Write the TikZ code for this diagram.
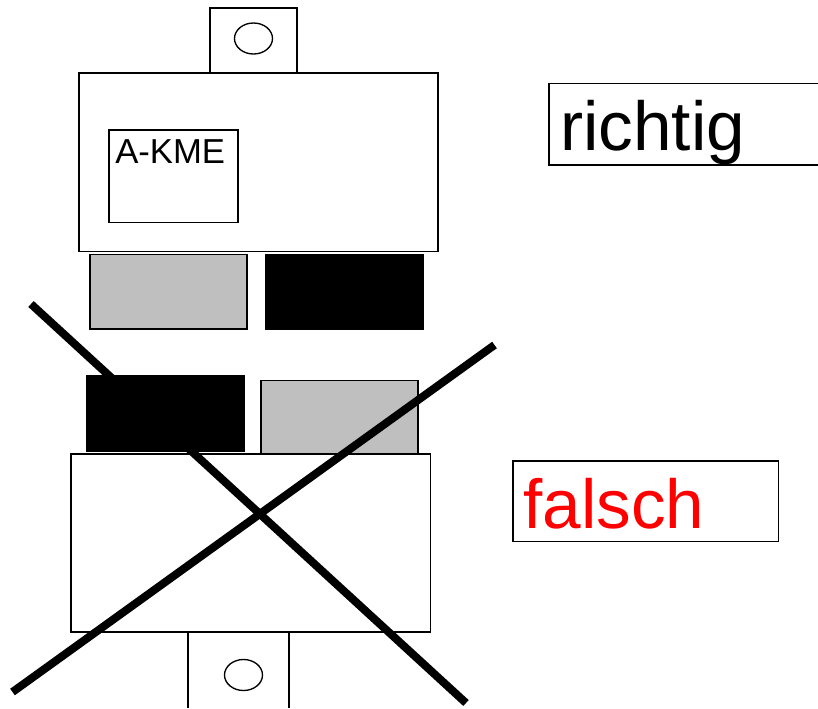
\documentclass[tikz,border=0pt]{standalone}
\usepackage{fontspec}
\setmainfont{Liberation Sans}
\begin{document}
\begin{tikzpicture}[x=0.75pt,y=-0.75pt,
  outline/.style={draw=black,line width=1pt},
  graybox/.style={outline,fill=black!25!white},
  blackbox/.style={draw=black,fill=black,line width=1pt},
  cross/.style={draw=black,line width=6pt},
  bigtext/.style={anchor=base west,inner sep=0pt,font=\fontsize{52}{52}\selectfont},
  smalltext/.style={anchor=base west,inner sep=0pt,font=\fontsize{26}{26}\selectfont}]
\useasboundingbox (0,0) rectangle (818,708);
% upper unit
\draw[outline] (210,73) -- (210,8) -- (297,8) -- (297,73);
\draw[outline] (253.5,38.5) ellipse (19 and 15.5);
\draw[outline] (79,73) rectangle (438,251.5);
\draw[outline] (109,130) rectangle (238,222.5);
\node[smalltext] (akme) at (115,163) {A-KME};
\draw[graybox] (90,254.5) rectangle (247,329);
\draw[blackbox] (265.5,254.5) rectangle (423,329);
% lower unit
\draw[blackbox] (86.5,376) rectangle (244.5,451);
\draw[graybox] (261,380.5) rectangle (418,454);
\draw[outline] (71,454) rectangle (430.5,632);
\draw[outline] (188,632) -- (188,708);
\draw[outline] (289,632) -- (289,708);
\draw[outline] (243.5,675) ellipse (19 and 15.5);
% crossing lines
\coordinate (x1s) at (31,304);
\coordinate (x1e) at (466,703);
\coordinate (x2s) at (494.5,345);
\coordinate (x2e) at (12.5,692);
\draw[cross] (x1s) -- (x1e);
\draw[cross] (x2s) -- (x2e);
% labels
\draw[outline] (818,83.5) -- (549,83.5) -- (549,165) -- (818,165);
\node[bigtext] (richtig) at (560,150) {richtig};
\draw[outline] (513,461) rectangle (778.5,541.5);
\node[bigtext,text=red] (falsch) at (523,528) {falsch};
\end{tikzpicture}
\end{document}
